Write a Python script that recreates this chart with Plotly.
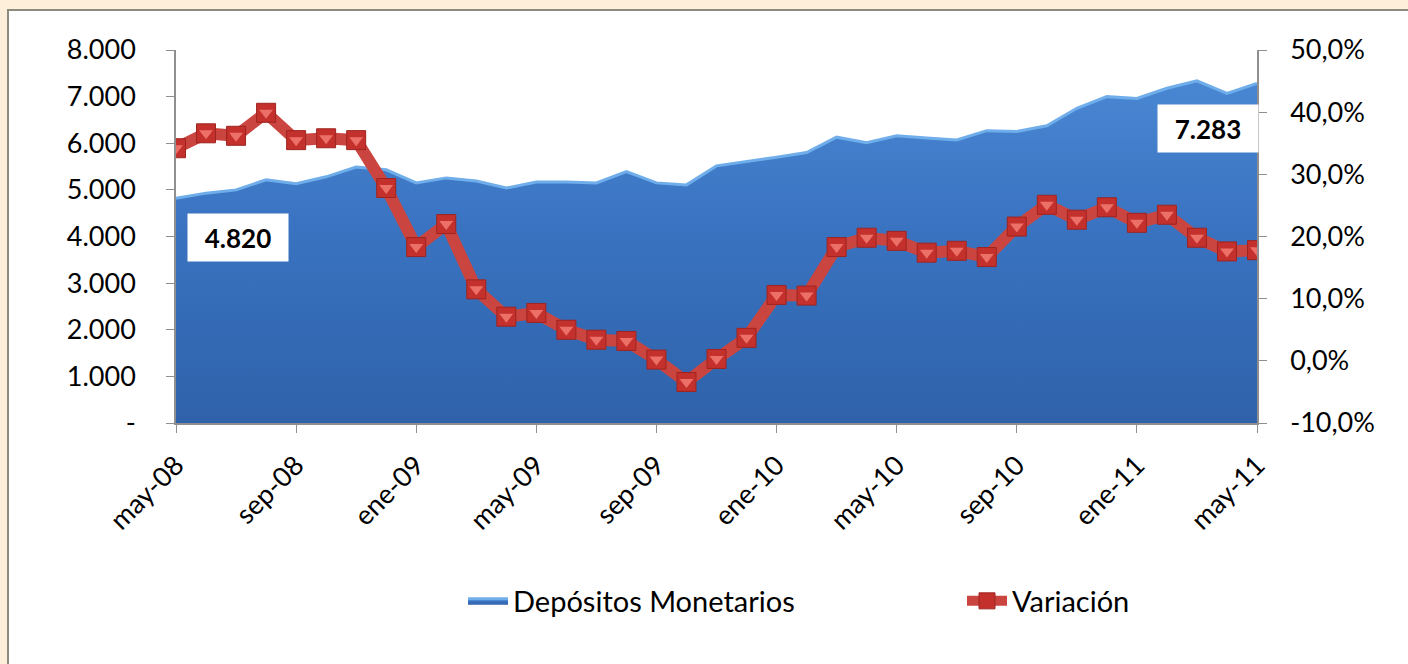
import plotly.graph_objects as go

months = [
    "may-08", "jun-08", "jul-08", "ago-08", "sep-08", "oct-08", "nov-08", "dic-08",
    "ene-09", "feb-09", "mar-09", "abr-09", "may-09", "jun-09", "jul-09", "ago-09",
    "sep-09", "oct-09", "nov-09", "dic-09", "ene-10", "feb-10", "mar-10", "abr-10",
    "may-10", "jun-10", "jul-10", "ago-10", "sep-10", "oct-10", "nov-10", "dic-10",
    "ene-11", "feb-11", "mar-11", "abr-11", "may-11",
]
depositos = [
    4820, 4930, 5000, 5215, 5130, 5280, 5490, 5430,
    5150, 5257, 5190, 5040, 5170, 5170, 5150, 5390,
    5150, 5107, 5515, 5600, 5700, 5800, 6130, 6010,
    6160, 6110, 6070, 6270, 6250, 6375, 6750, 7000,
    6960, 7180, 7340, 7070, 7283,
]
variacion = [
    34.2, 36.6, 36.2, 39.9, 35.5, 35.8, 35.5, 27.8,
    18.3, 22.0, 11.5, 7.1, 7.7, 5.0, 3.4, 3.2,
    0.2, -3.4, 0.3, 3.7, 10.6, 10.5, 18.3, 19.8,
    19.3, 17.4, 17.7, 16.7, 21.6, 25.1, 22.7, 24.7,
    22.2, 23.5, 19.8, 17.6, 17.8,
]
left_ticks = [0, 1000, 2000, 3000, 4000, 5000, 6000, 7000, 8000]
right_ticks = [-10, 0, 10, 20, 30, 40, 50]


def fmt_thousands(v):
    return "-" if v == 0 else f"{v:,.0f}".replace(",", ".")


def fmt_pct(v):
    return f"{v:.1f}%".replace(".", ",")


FONT = "Lato"
W, H = 1408, 664
L, R, T, B = 176, 151, 50, 241
pw, ph = W - L - R, H - T - B


def px_x(x):
    return (x - L) / pw


def px_y(y):
    return (H - B - y) / ph


fig = go.Figure()

fig.add_trace(go.Scatter(
    x=months, y=depositos, name="Depósitos Monetarios",
    mode="lines", fill="tozeroy",
    line=dict(color="#6FAEEA", width=3),
    fillgradient=dict(type="vertical",
                      colorscale=[[0, "#2F62AA"], [0.6, "#3A74C2"], [1, "#4A87D3"]]),
    fillcolor="#3A74C2",
    yaxis="y", hoverinfo="skip", legend="legend",
))

fig.add_trace(go.Scatter(
    x=months, y=variacion, name="Variación",
    mode="lines+markers",
    line=dict(color="#CB4540", width=12),
    marker=dict(symbol="square", size=19, color="#C4302C",
                line=dict(color="#9E2420", width=1)),
    yaxis="y2", hoverinfo="skip", legend="legend2",
))

fig.add_trace(go.Scatter(
    x=months, y=variacion, showlegend=False,
    mode="markers",
    marker=dict(symbol="triangle-down", size=12, color="#EC7068",
                line=dict(width=0)),
    yaxis="y2", hoverinfo="skip",
))

fig.add_shape(type="rect", xref="paper", yref="paper", layer="below",
              x0=px_x(8), x1=px_x(1440), y0=px_y(700), y1=px_y(10),
              fillcolor="white", line=dict(color="#8C8C7E", width=2))

for xc, yc, val in [(238, 237, depositos[0]), (1208, 128, depositos[-1])]:
    fig.add_annotation(
        xref="paper", yref="paper", x=px_x(xc), y=px_y(yc),
        xanchor="center", yanchor="middle",
        text=f"<b>{fmt_thousands(val)}</b>", showarrow=False,
        bgcolor="white", borderpad=8, width=84, height=31, align="center",
        font=dict(family=FONT, size=26, color="black"),
    )

axis_font = dict(family=FONT, size=27, color="black")
axis_common = dict(showgrid=False, zeroline=False,
                   showline=True, linecolor="#8F8F8F", linewidth=1.5,
                   ticks="outside", ticklen=8, tickcolor="#8F8F8F",
                   tickfont=axis_font)
legend_font = dict(family=FONT, size=29, color="black")

fig.update_layout(
    width=W, height=H,
    margin=dict(l=L, r=R, t=T, b=B),
    paper_bgcolor="#FDEFD9",
    plot_bgcolor="rgba(0,0,0,0)",
    showlegend=True,
    legend=dict(orientation="h", x=px_x(463), y=px_y(601), xanchor="left", yanchor="middle",
                font=legend_font, bgcolor="rgba(0,0,0,0)", itemwidth=40),
    legend2=dict(orientation="h", x=px_x(962), y=px_y(601), xanchor="left", yanchor="middle",
                 font=legend_font, bgcolor="rgba(0,0,0,0)", itemwidth=40),
    xaxis=dict(
        type="category", range=[0, len(months) - 1],
        tickvals=months[::4], ticktext=months[::4],
        tickangle=-45, ticklabelstandoff=6, **axis_common,
    ),
    yaxis=dict(
        range=[0, 8000], tickvals=left_ticks,
        ticktext=[fmt_thousands(v) for v in left_ticks],
        ticklabelstandoff=25, **axis_common,
    ),
    yaxis2=dict(
        overlaying="y", side="right",
        range=[-10, 50], tickvals=right_ticks,
        ticktext=[fmt_pct(v) for v in right_ticks],
        ticklabelstandoff=18, **axis_common,
    ),
)

fig.write_html(
    "out.html",
    config={"displayModeBar": False},
    post_script="document.body.style.margin='0';document.body.style.background='#FDEFD9';",
)
